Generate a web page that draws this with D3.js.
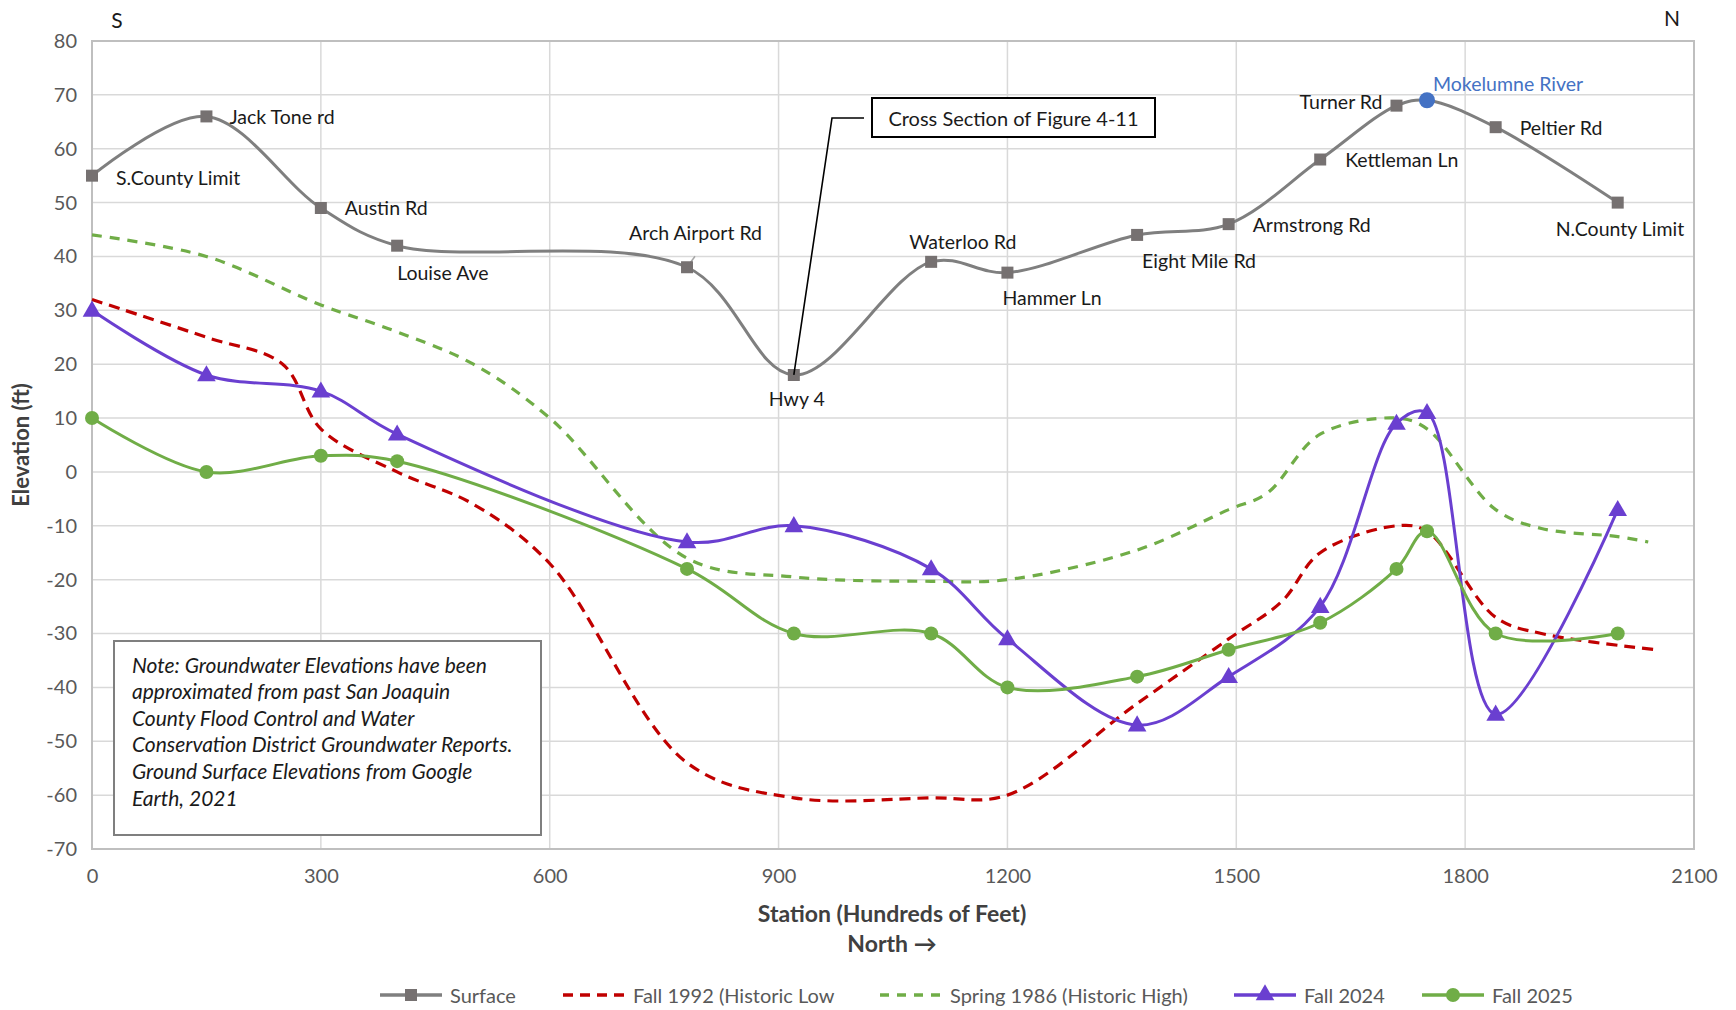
<!DOCTYPE html>
<html>
<head>
<meta charset="utf-8">
<script src="https://cdn.jsdelivr.net/npm/d3@7"></script>
<style>
  html, body { margin: 0; padding: 0; background: #fff; }
  svg { display: block; font-family: Lato, "Open Sans", sans-serif; }
</style>
</head>
<body>
<svg id="chart" width="1736" height="1010"></svg>
<script>
// Stations (hundreds of feet) along the south-to-north profile
const stations = [0, 150, 300, 400, 780, 920, 1100, 1200, 1370, 1490, 1610, 1710, 1750, 1840, 2000];
const stationNames = ["S.County Limit", "Jack Tone rd", "Austin Rd", "Louise Ave", "Arch Airport Rd", "Hwy 4",
  "Waterloo Rd", "Hammer Ln", "Eight Mile Rd", "Armstrong Rd", "Kettleman Ln", "Turner Rd",
  "Mokelumne River", "Peltier Rd", "N.County Limit"];

// Elevations (ft)
const surface  = [55, 66, 49, 42, 38, 18, 39, 37, 44, 46, 58, 68, 69, 64, 50];
const fall2024 = [30, 18, 15, 7, -13, -10, -18, -31, -47, -38, -25, 9, 11, -45, -7];
const fall2025 = [10, 0, 3, 2, -18, -30, -30, -40, -38, -33, -28, -18, -11, -30, -30];

// Historic contours, traced on their own stations
const fall1992X = [0, 150, 250, 300, 400, 500, 600, 780, 920, 1100, 1200, 1370, 1490, 1560, 1610, 1710, 1750, 1840, 1900, 2050];
const fall1992Y = [32, 25, 20, 8, 0, -6, -17, -54, -60.5, -60.5, -60, -43, -31, -24, -15, -10, -11, -27, -30, -33];
const spring1986X = [0, 150, 300, 400, 500, 600, 780, 920, 1100, 1200, 1370, 1490, 1540, 1610, 1710, 1750, 1840, 1900, 2000, 2040];
const spring1986Y = [44, 40, 31, 26, 20, 10, -16, -19.5, -20.3, -20, -14.5, -7, -4, 7, 10, 8, -7, -10.5, -12, -13];

const xTicks = [0, 300, 600, 900, 1200, 1500, 1800, 2100];
const yTicks = [-70, -60, -50, -40, -30, -20, -10, 0, 10, 20, 30, 40, 50, 60, 70, 80];

const noteLines = [
  "Note: Groundwater Elevations have been",
  "approximated from past San Joaquin",
  "County Flood Control and Water",
  "Conservation District Groundwater Reports.",
  "Ground Surface Elevations from Google",
  "Earth, 2021"
];

const C = {
  surface: "#7f7f7f", surfaceMark: "#767171", red: "#c00000", green: "#70ad47",
  purple: "#6a3fd0", river: "#4472c4", grid: "#d9d9d9", frame: "#bfbfbf", tick: "#595959", text: "#1a1a1a"
};

const svg = d3.select("#chart");
const m = { left: 92, right: 1694, top: 41, bottom: 849 };
const x = d3.scaleLinear().domain([0, 2100]).range([m.left, m.right]);
const y = d3.scaleLinear().domain([-70, 80]).range([m.bottom, m.top]);

// gridlines
const g = svg.append("g");
g.selectAll("line.h").data(yTicks).join("line")
  .attr("x1", m.left).attr("x2", m.right).attr("y1", d => y(d)).attr("y2", d => y(d))
  .attr("stroke", C.grid).attr("stroke-width", 1.5);
g.selectAll("line.v").data(xTicks).join("line")
  .attr("y1", m.top).attr("y2", m.bottom).attr("x1", d => x(d)).attr("x2", d => x(d))
  .attr("stroke", C.grid).attr("stroke-width", 1.5);
g.append("rect").attr("x", m.left).attr("y", m.top).attr("width", m.right - m.left).attr("height", m.bottom - m.top)
  .attr("fill", "none").attr("stroke", C.frame).attr("stroke-width", 2);

// axes (tick labels only)
const plain = d => String(d);
const yAxis = d3.axisLeft(y).tickValues(yTicks).tickFormat(plain).tickSize(0).tickPadding(15);
const xAxis = d3.axisBottom(x).tickValues(xTicks).tickFormat(plain).tickSize(0).tickPadding(20);
svg.append("g").attr("transform", `translate(${m.left},0)`).call(yAxis)
  .call(s => s.select(".domain").remove())
  .selectAll("text").attr("fill", C.tick).attr("font-size", 20).attr("font-family", "Lato, sans-serif");
svg.append("g").attr("transform", `translate(0,${m.bottom})`).call(xAxis)
  .call(s => s.select(".domain").remove())
  .selectAll("text").attr("fill", C.tick).attr("font-size", 20).attr("font-family", "Lato, sans-serif");

// axis titles
svg.append("text").attr("transform", `translate(29,${(m.top + m.bottom) / 2}) rotate(-90)`)
  .attr("text-anchor", "middle").attr("font-weight", "bold").attr("font-size", 22).attr("fill", "#404040")
  .text("Elevation (ft)");
svg.append("text").attr("x", 892).attr("y", 922).attr("text-anchor", "middle")
  .attr("font-weight", "bold").attr("font-size", 23).attr("fill", "#404040").text("Station (Hundreds of Feet)");
svg.append("text").attr("x", 892).attr("y", 952).attr("text-anchor", "middle")
  .attr("font-weight", "bold").attr("font-size", 23).attr("fill", "#404040").text("North \u2192");
svg.append("text").attr("x", 117).attr("y", 28).attr("text-anchor", "middle").attr("font-size", 21).attr("fill", C.text).text("S");
svg.append("text").attr("x", 1672).attr("y", 26).attr("text-anchor", "middle").attr("font-size", 21).attr("fill", C.text).text("N");

const curve = d3.curveCatmullRom.alpha(0.5);
const line = d3.line().x(d => x(d[0])).y(d => y(d[1])).curve(curve);
const zip = (xs, ys) => xs.map((v, i) => [v, ys[i]]);

const plot = svg.append("g");
plot.append("path").datum(zip(spring1986X, spring1986Y)).attr("d", line)
  .attr("fill", "none").attr("stroke", C.green).attr("stroke-width", 3.2).attr("stroke-dasharray", "10 8");
plot.append("path").datum(zip(fall1992X, fall1992Y)).attr("d", line)
  .attr("fill", "none").attr("stroke", C.red).attr("stroke-width", 3.2).attr("stroke-dasharray", "11 7");
plot.append("path").datum(zip(stations, surface)).attr("d", line)
  .attr("fill", "none").attr("stroke", C.surface).attr("stroke-width", 3);
plot.append("path").datum(zip(stations, fall2024)).attr("d", line)
  .attr("fill", "none").attr("stroke", C.purple).attr("stroke-width", 3);
plot.append("path").datum(zip(stations, fall2025)).attr("d", line)
  .attr("fill", "none").attr("stroke", C.green).attr("stroke-width", 3);

const riverIdx = stationNames.indexOf("Mokelumne River");
const hwyIdx = stationNames.indexOf("Hwy 4");
const archIdx = stationNames.indexOf("Arch Airport Rd");

// Arch Airport Rd small leader
plot.append("line")
  .attr("x1", x(stations[archIdx])).attr("y1", y(surface[archIdx]))
  .attr("x2", x(stations[archIdx]) + 8).attr("y2", y(surface[archIdx]) - 11)
  .attr("stroke", "#a6a6a6").attr("stroke-width", 1.5);

// markers
const tri = d3.symbol().type(d3.symbolTriangle).size(150);
const sq = d3.symbol().type(d3.symbolSquare).size(144);
plot.selectAll("path.s").data(zip(stations, surface).filter((d, i) => i !== riverIdx)).join("path")
  .attr("d", sq).attr("transform", d => `translate(${x(d[0])},${y(d[1])})`).attr("fill", C.surfaceMark);
plot.append("circle").attr("cx", x(stations[riverIdx])).attr("cy", y(surface[riverIdx])).attr("r", 8).attr("fill", C.river);
plot.selectAll("path.t").data(zip(stations, fall2024)).join("path")
  .attr("d", tri).attr("transform", d => `translate(${x(d[0])},${y(d[1]) + 1})`).attr("fill", C.purple);
plot.selectAll("circle.c").data(zip(stations, fall2025)).join("circle")
  .attr("cx", d => x(d[0])).attr("cy", d => y(d[1])).attr("r", 7).attr("fill", C.green);

// station labels
const labelOffsets = [
  [24, 2, "start"], [23, 0, "start"], [24, 0, "start"], [0, 27, "start"], [-58, -35, "start"], [3, 24, "middle"],
  [-22, -20, "start"], [-5, 25, "start"], [5, 26, "start"], [24, 0, "start"], [25, 0, "start"], [-14, -4, "end"],
  [6, -17, "start"], [24, 0, "start"], [-62, 26, "start"]
];
plot.selectAll("text.lab").data(stationNames).join("text")
  .attr("x", (d, i) => x(stations[i]) + labelOffsets[i][0])
  .attr("y", (d, i) => y(surface[i]) + labelOffsets[i][1])
  .attr("text-anchor", (d, i) => labelOffsets[i][2])
  .attr("dominant-baseline", "central")
  .attr("font-size", 19.5).attr("fill", (d, i) => i === riverIdx ? C.river : C.text)
  .text(d => d);

// callout box for the cross section
const cx0 = 872, cy0 = 98, cw = 283, ch = 39;
plot.append("polyline")
  .attr("points", `${x(stations[hwyIdx])},${y(surface[hwyIdx])} ${cx0 - 40},${cy0 + 20} ${cx0 - 8},${cy0 + 20}`)
  .attr("fill", "none").attr("stroke", "#000").attr("stroke-width", 1.6);
plot.append("rect").attr("x", cx0).attr("y", cy0).attr("width", cw).attr("height", ch)
  .attr("fill", "#fff").attr("stroke", "#000").attr("stroke-width", 2);
plot.append("text").attr("x", cx0 + cw / 2).attr("y", cy0 + ch / 2).attr("text-anchor", "middle")
  .attr("dominant-baseline", "central").attr("font-size", 20).attr("fill", C.text).text("Cross Section of Figure 4-11");

// note box
const note = svg.append("g");
note.append("rect").attr("x", 114).attr("y", 641).attr("width", 427).attr("height", 194)
  .attr("fill", "#fff").attr("stroke", "#7f7f7f").attr("stroke-width", 2);
note.selectAll("text").data(noteLines).join("text")
  .attr("x", 132).attr("y", (d, i) => 664 + i * 26.6).attr("dominant-baseline", "central")
  .attr("font-style", "italic").attr("font-size", 21).attr("fill", C.text).text(d => d);

// legend
const legend = [
  { name: "Surface", color: C.surface, dash: null, mark: "square", x0: 380 },
  { name: "Fall 1992 (Historic Low", color: C.red, dash: "10 7", mark: null, x0: 563 },
  { name: "Spring 1986 (Historic High)", color: C.green, dash: "9 8", mark: null, x0: 880 },
  { name: "Fall 2024", color: C.purple, dash: null, mark: "triangle", x0: 1234 },
  { name: "Fall 2025", color: C.green, dash: null, mark: "circle", x0: 1422 }
];
const ly = 995;
const lg = svg.append("g");
legend.forEach(d => {
  lg.append("line").attr("x1", d.x0).attr("x2", d.x0 + 62).attr("y1", ly).attr("y2", ly)
    .attr("stroke", d.color).attr("stroke-width", 3.5).attr("stroke-dasharray", d.dash);
  const mx = d.x0 + 31;
  if (d.mark === "square") lg.append("path").attr("d", sq).attr("transform", `translate(${mx},${ly})`).attr("fill", C.surfaceMark);
  if (d.mark === "triangle") lg.append("path").attr("d", tri).attr("transform", `translate(${mx},${ly})`).attr("fill", d.color);
  if (d.mark === "circle") lg.append("circle").attr("cx", mx).attr("cy", ly).attr("r", 7).attr("fill", d.color);
  lg.append("text").attr("x", d.x0 + 70).attr("y", ly).attr("dominant-baseline", "central")
    .attr("font-size", 20).attr("fill", C.tick).text(d.name);
});
</script>
</body>
</html>
